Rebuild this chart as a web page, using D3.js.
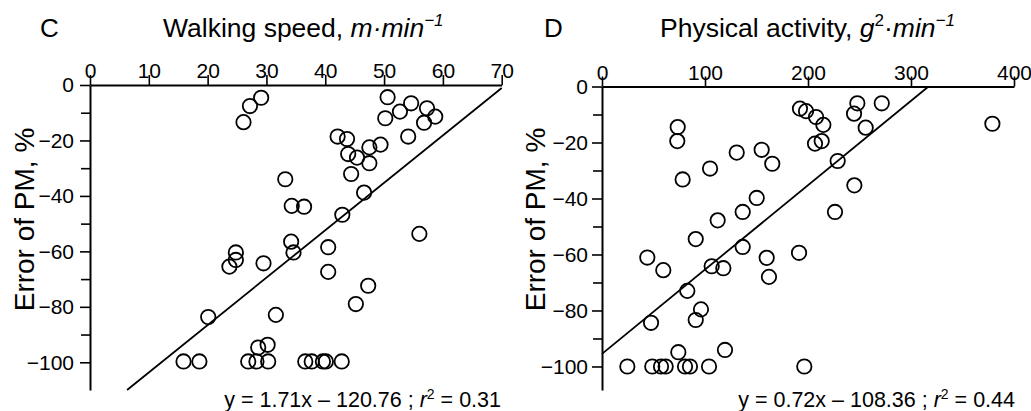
<!DOCTYPE html>
<html>
<head>
<meta charset="utf-8">
<script src="https://cdn.jsdelivr.net/npm/d3@7"></script>
<style>
  html, body { margin: 0; padding: 0; background: #fff; }
  svg { display: block; font-family: "Liberation Sans", Arial, Helvetica, sans-serif; }
</style>
</head>
<body>
<svg id="chart" width="1031" height="411"></svg>
<script>
// ---------- DATA ----------
// Panel C: walking speed (m/min) vs error of PM (%)
const speedX = [29.1, 27.2, 26.1, 50.6, 52.7, 54.6, 57.3, 50.2, 56.8, 58.7,
  54.1, 42.1, 43.7, 43.9, 45.4, 47.5, 49.4, 47.5, 44.4, 33.2,
  46.6, 34.3, 36.4, 42.9, 56.0, 34.2, 34.6, 40.5, 24.8, 24.8,
  23.7, 29.5, 40.5, 47.3, 45.2, 20.1, 31.6, 28.6, 30.2,
  15.9, 18.6, 26.9, 28.3, 30.3, 36.6, 37.7, 39.6, 40.1, 42.8];
const speedErr = [-4.6, -7.6, -13.4, -4.4, -9.6, -6.6, -8.4, -12.0, -13.6, -11.4,
  -18.6, -18.6, -19.5, -24.9, -26.2, -22.5, -21.5, -28.2, -32.1, -34.0,
  -38.8, -43.6, -43.9, -46.8, -53.7, -56.5, -60.4, -58.5, -60.4, -63.1,
  -65.5, -64.3, -67.4, -72.4, -79.0, -83.7, -82.9, -94.7, -93.7,
  -99.7, -99.7, -99.7, -99.7, -99.7, -99.7, -99.7, -99.7, -99.7, -99.7];
const speedFitLine = [[6.3, -110], [70, -1.1]];

// Panel D: physical activity (g^2/min) vs error of PM (%)
const activityX = [192.2, 198.1, 207.8, 214.9, 206.8, 213.3, 247.9, 244.7, 256.0, 271.6,
  379.0, 73.5, 73.1, 130.8, 155.0, 165.3, 104.9, 78.3, 228.8, 245.0,
  150.2, 136.6, 112.3, 226.2, 91.0, 136.6, 191.3, 159.9, 44.0, 59.5,
  106.5, 117.8, 162.1, 82.8, 96.1, 91.0, 47.6, 74.1, 119.4,
  24.6, 48.8, 57.3, 61.8, 80.6, 85.4, 103.9, 196.4];
const activityErr = [-7.9, -8.8, -10.9, -13.7, -20.4, -19.5, -6.0, -9.7, -14.7, -6.0,
  -13.3, -14.5, -19.5, -23.6, -22.6, -27.6, -29.3, -33.2, -26.6, -35.3,
  -39.8, -44.8, -47.8, -44.8, -54.5, -57.3, -59.4, -61.2, -61.1, -65.6,
  -64.2, -64.9, -68.0, -73.0, -79.6, -83.4, -84.4, -94.9, -94.1,
  -100, -100, -100, -100, -100, -100, -100, -100];
const activityFitLine = [[0, -95.5], [317, 0]];

// Tick values
const speedTicks = [0, 10, 20, 30, 40, 50, 60, 70];
const activityTicks = [0, 100, 200, 300, 400];
const errTicks = [0, -20, -40, -60, -80, -100];
const errMinorTicks = [-10, -30, -50, -70, -90];

// ---------- DRAW ----------
const svg = d3.select("#chart");
const ink = "#000";

const panels = [
  {
    letter: "C", letterX: 40,
    titleX: 163,
    title: [["Walking speed, ", false, false], ["m\u00B7min", true, false], ["\u22121", true, true]],
    xs: speedX, ys: speedErr, fit: speedFitLine, xTicks: speedTicks,
    xDomain: [0, 70], xRange: [90, 501.7],
    yDomain: [0, -110], yRange: [85, 390],
    yLabelX: 33.5, yLabelPad: 6,
    eq: "y = 1.71x \u2013 120.76 ; ", r2: " = 0.31", eqX: 501
  },
  {
    letter: "D", letterX: 544,
    titleX: 660,
    title: [["Physical activity, ", false, false], ["g", true, false], ["2", false, true],
            ["\u00B7", false, false], ["min", true, false], ["\u22121", true, true]],
    xs: activityX, ys: activityErr, fit: activityFitLine, xTicks: activityTicks,
    xDomain: [0, 400], xRange: [602, 1014],
    yDomain: [0, -108.4], yRange: [86.5, 390],
    yLabelX: 544.5, yLabelPad: 4,
    eq: "y = 0.72x \u2013 108.36 ; ", r2: " = 0.44", eqX: 1015
  }
];

panels.forEach(p => {
  const x = d3.scaleLinear().domain(p.xDomain).range(p.xRange);
  const y = d3.scaleLinear().domain(p.yDomain).range(p.yRange);
  const g = svg.append("g");

  // Panel letter
  g.append("text").attr("x", p.letterX).attr("y", 36.5)
    .attr("font-size", 26).attr("fill", ink).text(p.letter);

  // Title
  const t = g.append("text").attr("x", p.titleX).attr("y", 36.5)
    .attr("font-size", 26.5).attr("fill", ink);
  let raised = false;
  p.title.forEach(([s, it, sup]) => {
    const ts = t.append("tspan").text(s);
    if (it) ts.attr("font-style", "italic");
    if (sup && !raised) { ts.attr("font-size", 17).attr("dy", -11); raised = true; }
    else if (!sup && raised) { ts.attr("dy", 11); raised = false; }
    else if (sup) ts.attr("font-size", 17);
  });

  // X axis (top)
  const xAxis = d3.axisTop(x).tickValues(p.xTicks).tickSize(10).tickPadding(-3).tickSizeOuter(0);
  const gx = g.append("g").attr("transform", `translate(0,${y(0)})`).call(xAxis);
  gx.select(".domain").attr("stroke", ink).attr("stroke-width", 2);
  gx.selectAll(".tick line").attr("stroke", ink).attr("stroke-width", 1.6);
  gx.selectAll(".tick text").attr("font-size", 21).attr("fill", ink)
    .attr("font-family", "Liberation Sans, Arial, sans-serif");

  // Y axis (left) major
  const yAxis = d3.axisLeft(y).tickValues(errTicks).tickSize(10).tickPadding(p.yLabelPad)
    .tickSizeOuter(0).tickFormat(d => d === 0 ? "0" : "\u2212" + Math.abs(d));
  const gy = g.append("g").attr("transform", `translate(${x(0)},0)`).call(yAxis);
  gy.select(".domain").attr("stroke", ink).attr("stroke-width", 2);
  gy.selectAll(".tick line").attr("stroke", ink).attr("stroke-width", 1.6);
  gy.selectAll(".tick text").attr("font-size", 21).attr("fill", ink)
    .attr("font-family", "Liberation Sans, Arial, sans-serif");

  // Y axis minor ticks
  const yMinor = d3.axisLeft(y).tickValues(errMinorTicks).tickSize(9).tickFormat("").tickSizeOuter(0);
  const gym = g.append("g").attr("transform", `translate(${x(0)},0)`).call(yMinor);
  gym.select(".domain").remove();
  gym.selectAll(".tick line").attr("stroke", ink).attr("stroke-width", 1.6);

  // Y axis label
  g.append("text")
    .attr("transform", `translate(${p.yLabelX},219.5) rotate(-90)`)
    .attr("text-anchor", "middle").attr("font-size", 28).attr("fill", ink)
    .text("Error of PM, %");

  // Regression line
  g.append("path").datum(p.fit)
    .attr("d", d3.line().x(d => x(d[0])).y(d => y(d[1])))
    .attr("fill", "none").attr("stroke", ink).attr("stroke-width", 1.8);

  // Points
  g.append("g").selectAll("circle").data(p.xs.map((v, i) => [v, p.ys[i]]))
    .join("circle")
    .attr("cx", d => x(d[0])).attr("cy", d => y(d[1])).attr("r", 7.2)
    .attr("fill", "none").attr("stroke", ink).attr("stroke-width", 1.8);

  // Equation
  const eq = g.append("text").attr("x", p.eqX).attr("y", 406.5)
    .attr("text-anchor", "end").attr("font-size", 21.5).attr("fill", ink);
  eq.append("tspan").text(p.eq);
  eq.append("tspan").attr("font-style", "italic").text("r");
  eq.append("tspan").attr("font-size", 14).attr("dy", -8).text("2");
  eq.append("tspan").attr("dy", 8).text(p.r2);
});
</script>
</body>
</html>
